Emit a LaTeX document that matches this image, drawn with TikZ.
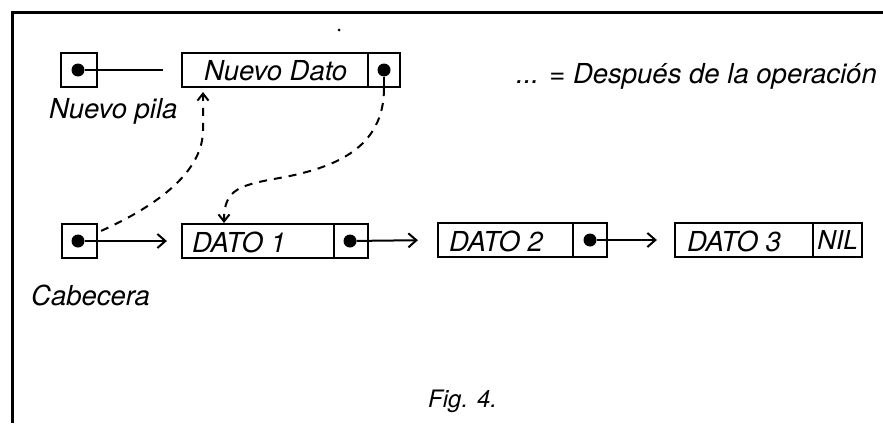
\documentclass[tikz,border=0pt]{standalone}
\usepackage{fontspec}
\setmainfont{TeX Gyre Heros}
\usetikzlibrary{arrows.meta}
\begin{document}
\begin{tikzpicture}[x=1pt,y=-1pt,
  lw/.style={line width=2.2pt},
  cell/.style={draw,line width=2.2pt,rectangle,inner sep=0pt,minimum height=34pt},
  ptr/.style={circle,fill,inner sep=0pt,minimum size=13pt},
  lbl/.style={inner sep=0pt,anchor=base west,font=\fontsize{27.5}{30}\selectfont\itshape},
  link/.style={line width=2pt,-{Straight Barb[length=8pt,width=14pt]}},
  dlink/.style={line width=2pt,dash pattern=on 8pt off 7pt,-{Straight Barb[length=7pt,width=11pt]}}]
\useasboundingbox (0,0) rectangle (883,423);
\fill[white] (0,0) rectangle (883,423);
\draw[line width=2.4pt] (883,12.5) -- (12.5,12.5) -- (12.5,423);
\fill (339,30) circle (1.5);
% top row
\node[cell,minimum width=36pt] (npbox) at (79,70) {};
\node[ptr] (npdot) at (78,70) {};
\coordinate (npend) at (163,70);
\draw[lw] (npdot) -- (npend);
\node[cell,minimum width=186pt] (ndbox) at (275,70) {};
\node[cell,minimum width=32pt] (ndcell) at (384,70) {};
\node[ptr] (nddot) at (384,70) {};
\node[lbl] (ndtxt) at (204,80) {Nuevo Dato};
\node[lbl] (nptxt) at (49,118) {Nuevo pila};
\node[lbl] (leg) at (516,83) {... = Después de la operación};
% bottom row
\node[cell,minimum width=35pt] (cabbox) at (79.5,241) {};
\node[ptr] (cabdot) at (78,241) {};
\node[cell,minimum width=152pt] (d1box) at (258,241) {};
\node[cell,minimum width=34pt] (d1cell) at (351,241) {};
\node[ptr] (d1dot) at (350,241) {};
\node[lbl] (d1txt) at (192,252) {DATO 1};
\node[cell,minimum width=135pt] (d2box) at (505.5,240) {};
\node[cell,minimum width=34pt] (d2cell) at (590,240) {};
\node[ptr] (d2dot) at (590,240) {};
\node[lbl] (d2txt) at (449,251) {DATO 2};
\node[cell,minimum width=49pt,font=\fontsize{26}{28}\selectfont\itshape] (nil) at (837.5,240) {NIL};
\node[cell,minimum width=138pt] (d3box) at (744,240) {};
\node[lbl] (d3txt) at (687,251) {DATO 3};
\node[lbl] (cab) at (31,305) {Cabecera};
\draw[link,shorten >=14pt] (cabdot) -- (d1box.west);
\draw[link,shorten >=19pt] (d1dot) -- (d2box.west);
\draw[link,shorten >=17pt] (d2dot) -- (d3box.west);
% dashed (after operation)
\coordinate (c1) at (203,130);
\coordinate (a1) at (203,92);
\draw[dlink] ([shift={(3pt,-8pt)}]cabbox.north east) .. controls +(60,-27) and +(0,40) .. (c1) -- (a1);
\draw[lw] (nddot) -- (ndcell.south);
\coordinate (m2) at (285,177);
\coordinate (a2) at (224,223);
\draw[dlink] (ndcell.south) .. controls +(0,60) and +(50,-10) .. (m2) .. controls +(-45,8) and +(0,-35) .. (a2);
\node[lbl,font=\fontsize{24}{26}\selectfont\itshape] (fig) at (428,407) {Fig. 4.};
\end{tikzpicture}
\end{document}
